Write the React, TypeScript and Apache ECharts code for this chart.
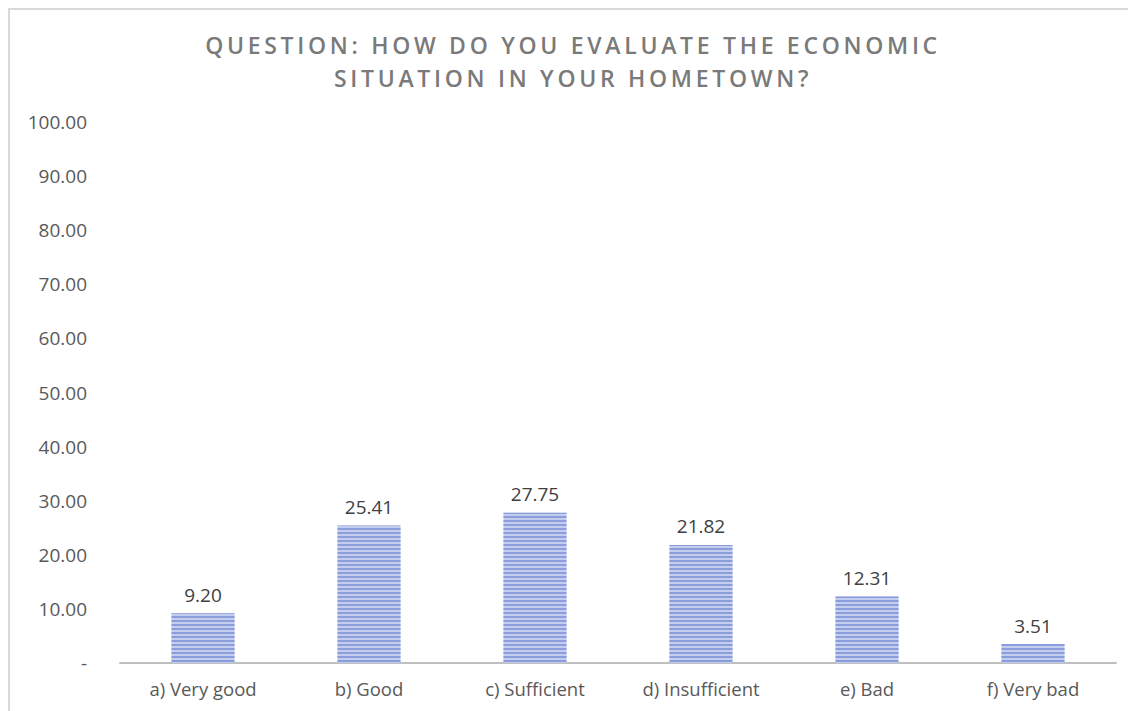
import React, { useEffect, useRef } from "react";
import * as echarts from "echarts";

const titleLines = [
  "QUESTION: HOW DO YOU EVALUATE THE ECONOMIC",
  "SITUATION IN YOUR HOMETOWN?",
];
const categories = [
  "a) Very good",
  "b) Good",
  "c) Sufficient",
  "d) Insufficient",
  "e) Bad",
  "f) Very bad",
];
const values = [9.2, 25.41, 27.75, 21.82, 12.31, 3.51];
const yMin = 0;
const yMax = 100;
const yStep = 10;

export default function App() {
  const ref = useRef<HTMLDivElement>(null);

  useEffect(() => {
    const el = ref.current;
    if (!el) return;
    const chart = echarts.init(el, null, { renderer: "svg" });

    // Spread the title letters out (SVG text honours CSS letter-spacing)
    const spaceTitle = () => {
      el.querySelectorAll("text").forEach((t) => {
        const s = t.textContent || "";
        if (titleLines.includes(s)) {
          (t as SVGTextElement).style.letterSpacing = "3.7px";
        }
      });
    };

    chart.on("finished", spaceTitle);
    chart.setOption({
      animation: false,
      backgroundColor: "#ffffff",
      graphic: [
        {
          type: "rect",
          shape: { x: 9, y: 9, width: 1400, height: 1000 },
          style: { fill: "none", stroke: "#D9D9D9", lineWidth: 2 },
          silent: true,
        },
        ...titleLines.map((line, i) => ({
          type: "text",
          x: 573,
          y: 45 + i * 33,
          silent: true,
          style: {
            text: line,
            textAlign: "center",
            textVerticalAlign: "middle",
            fontFamily: "Open Sans",
            fontSize: 23,
            fontWeight: 600,
            fill: "#7A7A7A",
          },
        })),
      ],
      grid: { left: 120, right: 12, top: 122, bottom: 48 },
      xAxis: {
        type: "category",
        data: categories,
        axisLine: { lineStyle: { color: "#BFBFBF", width: 2 } },
        axisTick: { show: false },
        axisLabel: {
          color: "#595959",
          fontFamily: "Open Sans",
          fontSize: 18.5,
          margin: 16,
        },
      },
      yAxis: {
        type: "value",
        min: yMin,
        max: yMax,
        interval: yStep,
        splitLine: { show: false },
        axisLine: { show: false },
        axisTick: { show: false },
        axisLabel: {
          color: "#595959",
          fontFamily: "Open Sans",
          fontSize: 19,
          margin: 33,
          formatter: (v: number) => (v === 0 ? "-" : v.toFixed(2)),
        },
      },
      series: [
        {
          type: "bar",
          data: values,
          barWidth: "38%",
          itemStyle: {
            color: "#C3CEEF",
            decal: {
              symbol: "rect",
              symbolSize: 1,
              dashArrayX: [1, 0],
              dashArrayY: [2, 2],
              color: "#8B9EDB",
              rotation: 0,
            },
          },
          label: {
            show: true,
            position: "top",
            distance: 9,
            color: "#404040",
            fontFamily: "Open Sans",
            fontSize: 19,
            formatter: (p: any) => Number(p.value).toFixed(2),
          },
        },
      ],
    });
    chart.getZr().refreshImmediately();
    spaceTitle();
    return () => chart.dispose();
  }, []);

  return (
    <div
      ref={ref}
      style={{ position: "absolute", left: 0, top: 0, width: 1128, height: 711 }}
    />
  );
}
